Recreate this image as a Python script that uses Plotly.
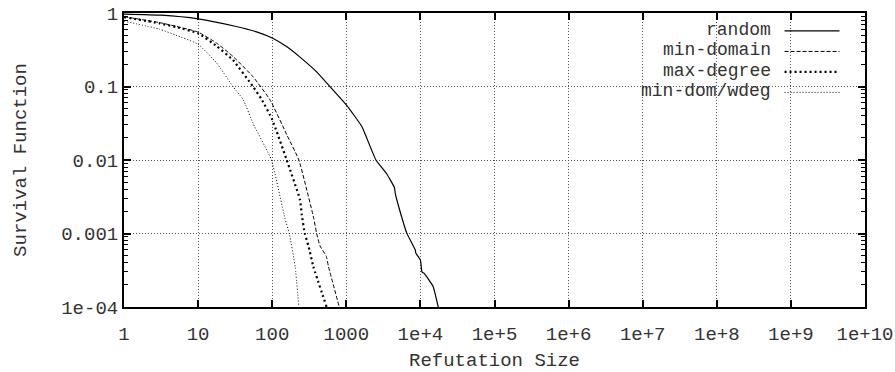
import plotly.graph_objects as go

# ---- data ----
random_x = [1, 3.16, 10, 31.6, 63, 100, 158, 237, 398, 589, 1000, 1620, 2510, 3470, 4470, 4570, 5250, 6530, 8510, 8700, 10000, 10500, 11200, 14800, 17400]
random_y = [0.966, 0.933, 0.832, 0.661, 0.55, 0.457, 0.347, 0.251, 0.158, 0.102, 0.0562, 0.0285, 0.0100, 0.0066, 0.0042, 0.00355, 0.00209, 0.00102, 0.00060, 0.000537, 0.000437, 0.000300, 0.000288, 0.000191, 0.0001]

mindom_x = [1, 3, 5, 10, 17.8, 29.5, 55, 93.3, 158, 229, 363, 398, 442, 537, 575, 804]
mindom_y = [0.891, 0.741, 0.66, 0.550, 0.389, 0.257, 0.136, 0.0661, 0.0219, 0.0100, 0.00162, 0.0010, 0.000676, 0.00049, 0.000355, 0.0001]

maxdeg_x = [1, 3, 5, 10, 17.8, 29.5, 55, 72.4, 100, 157, 237, 251, 275, 309, 359, 543]
maxdeg_y = [0.881, 0.724, 0.645, 0.530, 0.355, 0.229, 0.100, 0.0661, 0.0355, 0.0100, 0.00288, 0.00178, 0.0010, 0.000676, 0.000355, 0.0001]

wdeg_x = [1, 3, 5, 10, 17.8, 29.5, 40.7, 55, 97.7, 148, 170, 204, 229]
wdeg_y = [0.776, 0.603, 0.50, 0.376, 0.209, 0.100, 0.0661, 0.0316, 0.0100, 0.00162, 0.0010, 0.000355, 0.0001]

series_names = ["random", "min-domain", "max-degree", "min-dom/wdeg"]

x_tickvals = [10 ** i for i in range(11)]
x_ticktext = ["1", "10", "100", "1000", "1e+4", "1e+5", "1e+6", "1e+7", "1e+8", "1e+9", "1e+10"]
y_tickvals = [1, 0.1, 0.01, 0.001, 0.0001]
y_ticktext = ["1", "0.1", "0.01", "0.001", "1e-04"]

# ---- styles ----
FONT = "Liberation Mono, Courier New, monospace"
TXT = "#333333"
styles = [
    dict(color="black", width=1.2, dash="solid"),
    dict(color="black", width=1, dash="4px,2px"),
    dict(color="black", width=2.2, dash="2px,3px"),
    dict(color="black", width=1, dash="1px,2px"),
]

fig = go.Figure()
for (xs, ys), name, st in zip([(random_x, random_y), (mindom_x, mindom_y),
                               (maxdeg_x, maxdeg_y), (wdeg_x, wdeg_y)],
                              series_names, styles):
    fig.add_trace(go.Scatter(x=xs, y=ys, mode="lines", name=name, line=st,
                             line_shape="spline", line_smoothing=0.4,
                             showlegend=False))

axis_common = dict(
    showline=True, linewidth=2, linecolor="black", mirror="allticks",
    ticks="inside", ticklen=7, tickwidth=1.5, tickcolor="black",
    showgrid=True, gridcolor="#555555", gridwidth=1, griddash="1px,2px",
    zeroline=False, automargin=False,
    tickfont=dict(family=FONT, size=19, color=TXT),
)

fig.update_xaxes(type="log", range=[0, 10], tickmode="array",
                 tickvals=x_tickvals, ticktext=x_ticktext, ticklabelstandoff=8,
                 title=dict(text="Refutation Size", font=dict(family=FONT, size=19, color=TXT), standoff=12),
                 **axis_common)
fig.update_yaxes(type="log", range=[-4, 0], tickmode="array",
                 tickvals=y_tickvals, ticktext=y_ticktext,
                 minor=dict(dtick="D1", ticks="inside", ticklen=4,
                            tickwidth=1.2, tickcolor="black", showgrid=False),
                 title=dict(text="Survival Function", font=dict(family=FONT, size=19, color=TXT), standoff=30),
                 **axis_common)

# legend box (opaque, hides grid) + gnuplot-style entries (text, then sample)
L, R, T, B = 124, 865.5, 13, 307.5
W, H = R - L, B - T
def px(x):
    return (x - L) / W
def py(y):
    return (B - y) / H

fig.add_shape(type="rect", xref="paper", yref="paper", x0=px(625), x1=px(853),
              y0=py(102), y1=1, fillcolor="white", line=dict(width=0), layer="between")
rows = [30, 50.5, 71, 91.5]
for name, st, yy in zip(series_names, styles, rows):
    fig.add_annotation(x=px(773), y=py(yy), xref="paper", yref="paper", text=name,
                       showarrow=False, xanchor="right", yanchor="middle",
                       font=dict(family=FONT, size=18, color=TXT))
    fig.add_shape(type="line", xref="paper", yref="paper", x0=px(785), x1=px(840),
                  y0=py(yy + 1), y1=py(yy + 1), line=st)

fig.update_layout(
    width=895, height=372,
    margin=dict(l=124, r=29.5, t=13, b=64.5, autoexpand=False),
    paper_bgcolor="white", plot_bgcolor="white",
    showlegend=False,
)

fig.write_html("out.html")
